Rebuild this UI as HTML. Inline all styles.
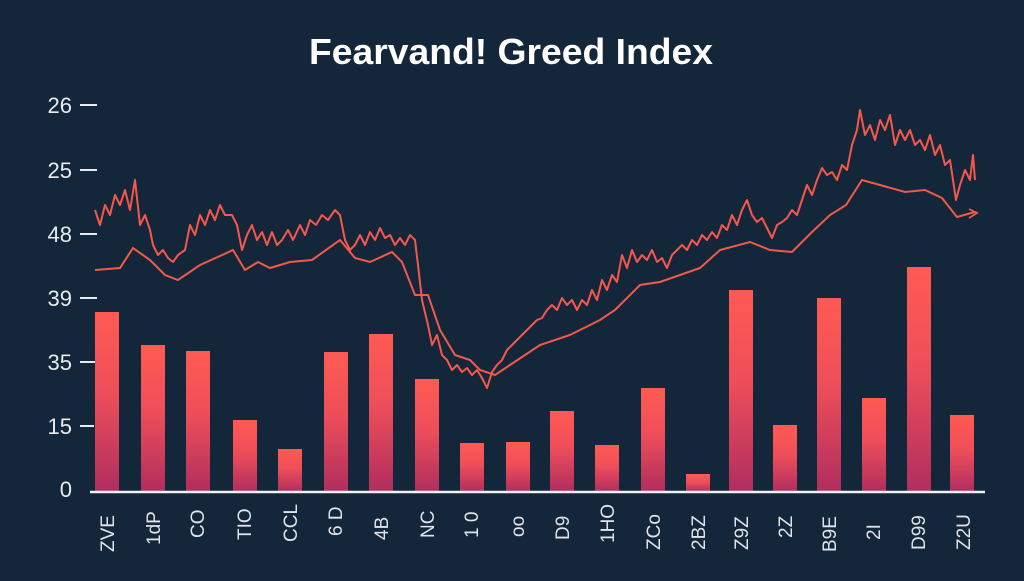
<!DOCTYPE html>
<html><head><meta charset="utf-8"><style>
body{margin:0;width:1024px;height:576px;background:#13263a;overflow:hidden;font-family:"Liberation Sans",sans-serif}
</style></head><body>
<svg width="1024" height="576" viewBox="0 0 1024 576">
<defs><linearGradient id="g" x1="0" y1="0" x2="0" y2="1" gradientUnits="objectBoundingBox">
<stop offset="0" stop-color="#ff5a52"/><stop offset="0.45" stop-color="#ee4e5a"/><stop offset="1" stop-color="#b02e5e"/></linearGradient></defs>
<text x="511" y="64" fill="#fff" font-size="36" font-weight="bold" text-anchor="middle" textLength="404" lengthAdjust="spacingAndGlyphs">Fearvand! Greed Index</text>
<g fill="#e8ecf0" font-size="22" text-anchor="end">
<text x="72" y="113">26</text><text x="72" y="178">25</text><text x="72" y="242">48</text>
<text x="72" y="306">39</text><text x="72" y="370">35</text><text x="72" y="434">15</text><text x="72" y="497">0</text></g>
<g stroke="#e8ecf0" stroke-width="2">
<line x1="80" y1="105" x2="97" y2="105"/><line x1="80" y1="170" x2="97" y2="170"/><line x1="80" y1="234" x2="97" y2="234"/>
<line x1="80" y1="298" x2="97" y2="298"/><line x1="80" y1="362" x2="97" y2="362"/><line x1="80" y1="426" x2="94" y2="426"/></g>
<g fill="url(#g)">
<rect x="95" y="312" width="24" height="180"/><rect x="141" y="345" width="24" height="147"/><rect x="186" y="351" width="24" height="141"/>
<rect x="233" y="420" width="24" height="72"/><rect x="278" y="449" width="24" height="43"/><rect x="324" y="352" width="24" height="140"/>
<rect x="369" y="334" width="24" height="158"/><rect x="415" y="379" width="24" height="113"/><rect x="460" y="443" width="24" height="49"/>
<rect x="506" y="442" width="24" height="50"/><rect x="550" y="411" width="24" height="81"/><rect x="595" y="445" width="24" height="47"/>
<rect x="641" y="388" width="24" height="104"/><rect x="686" y="474" width="24" height="18"/><rect x="729" y="290" width="24" height="202"/>
<rect x="773" y="425" width="24" height="67"/><rect x="817" y="298" width="24" height="194"/><rect x="862" y="398" width="24" height="94"/>
<rect x="907" y="267" width="24" height="225"/><rect x="950" y="415" width="24" height="77"/></g>
<line x1="90" y1="492" x2="985" y2="492" stroke="#f0f2f4" stroke-width="2.5"/>
<polyline fill="none" stroke="#f25a48" stroke-width="2" points="95,270 120,268 133,248 150,260 165,275 178,280 200,265 220,256 233,250 245,270 258,262 270,268 290,262 312,260 340,240 355,258 370,262 392,252 402,262 415,295 428,295 440,330 455,355 470,360 480,370 495,375 510,365 540,345 570,335 600,320 615,310 640,285 660,282 680,275 700,268 720,250 750,242 770,250 792,252 812,232 830,215 846,205 862,180 880,185 905,192 925,190 942,198 957,217 975,212"/>
<polyline fill="none" stroke="#f25a48" stroke-width="1.8" points="969,209 977,213 969,218"/>
<polyline fill="none" stroke="#f5584a" stroke-width="2" stroke-linejoin="round" points="95,210 100,225 105,205 110,215 115,195 120,205 125,190 130,210 135,180 140,225 145,215 150,230 153,245 158,255 163,250 168,258 173,262 178,255 185,250 190,225 195,235 200,215 205,225 210,210 215,220 220,205 225,215 232,215 237,225 242,250 247,235 252,225 257,240 262,232 267,245 272,232 277,245 282,240 288,230 293,240 300,225 305,235 310,220 316,225 322,215 328,220 335,210 340,215 345,240 350,250 355,245 360,235 365,245 370,232 375,240 380,228 385,238 390,235 395,245 400,238 405,245 410,235 415,240 418,265 422,300 428,325 432,345 437,335 442,355 447,360 452,370 457,365 462,372 467,368 472,375 477,370 482,378 487,388 492,372 497,365 502,360 507,350 512,345 517,340 522,335 527,330 532,325 537,320 542,318 547,310 552,305 557,310 562,298 567,305 572,300 577,310 582,300 587,305 592,290 597,300 602,280 607,290 612,275 617,282 622,255 627,268 632,250 637,262 642,255 647,260 652,250 657,262 662,258 667,268 672,255 677,250 682,245 687,250 692,240 697,245 702,235 707,240 712,232 717,238 722,225 727,230 732,215 737,225 742,210 747,200 752,215 757,222 762,218 767,228 772,238 777,225 782,222 787,218 792,210 797,215 802,200 807,185 812,195 817,180 822,168 827,175 832,172 837,180 842,165 847,170 852,145 857,130 860,110 865,135 870,125 875,140 880,120 885,130 890,115 895,145 900,130 905,140 910,130 915,145 920,140 925,150 930,135 935,155 940,145 945,165 950,160 953,180 956,200 960,185 965,170 970,180 973,155 975,180"/>
<g fill="#e0e4ea" font-size="19">
<text transform="translate(114,552) rotate(-90)">ZVE</text>
<text transform="translate(160,545) rotate(-90)">1dP</text>
<text transform="translate(204,538) rotate(-90)">CO</text>
<text transform="translate(251,540) rotate(-90)">TIO</text>
<text transform="translate(297,542) rotate(-90)">CCL</text>
<text transform="translate(342,536) rotate(-90)">6 D</text>
<text transform="translate(388,540) rotate(-90)">4B</text>
<text transform="translate(434,538) rotate(-90)">NC</text>
<text transform="translate(478,538) rotate(-90)">1 0</text>
<text transform="translate(524,537) rotate(-90)">oo</text>
<text transform="translate(569,540) rotate(-90)">D9</text>
<text transform="translate(614,543) rotate(-90)">1HO</text>
<text transform="translate(660,550) rotate(-90)">ZCo</text>
<text transform="translate(705,550) rotate(-90)">2BZ</text>
<text transform="translate(748,550) rotate(-90)">Z9Z</text>
<text transform="translate(792,538) rotate(-90)">2Z</text>
<text transform="translate(836,552) rotate(-90)">B9E</text>
<text transform="translate(880,540) rotate(-90)">2I</text>
<text transform="translate(925,550) rotate(-90)">D99</text>
<text transform="translate(970,550) rotate(-90)">Z2U</text>
</g>
</svg>
</body></html>
